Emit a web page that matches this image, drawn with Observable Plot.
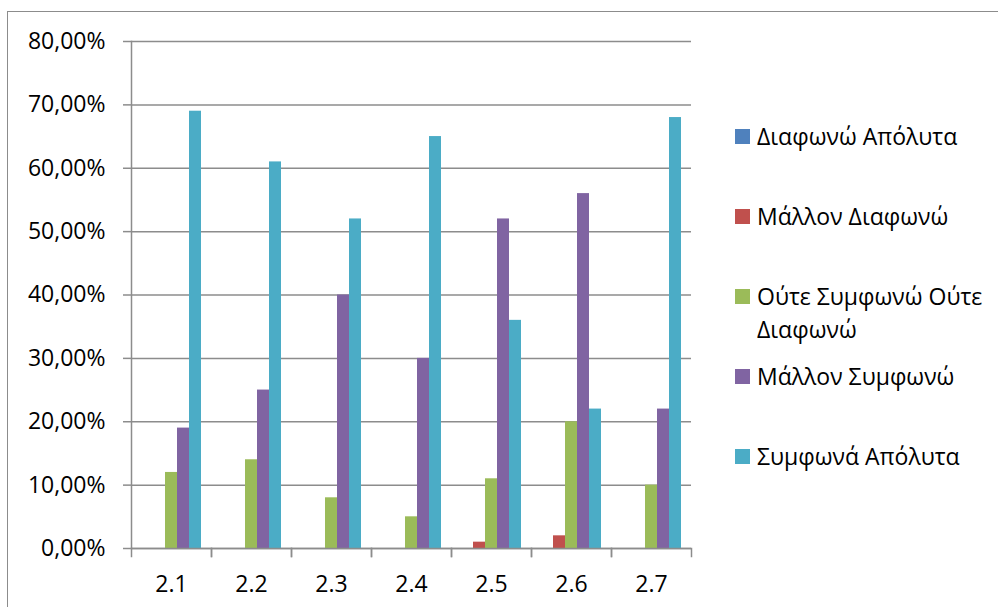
<!DOCTYPE html>
<html>
<head>
<meta charset="utf-8">
<script src="https://cdn.jsdelivr.net/npm/d3@7"></script>
<script src="https://cdn.jsdelivr.net/npm/@observablehq/plot@0.6"></script>
<style>
html, body { margin: 0; padding: 0; background: #fff; overflow: hidden; width: 998px; height: 607px; }
#border { position: absolute; left: 7px; top: 11px; width: 1200px; height: 900px; border-left: 1.5px solid #8c8c8c; border-top: 1.5px solid #8c8c8c; box-sizing: border-box; }
#chart { position: absolute; left: 0; top: 0; }
#legend { position: absolute; left: 735px; top: 120px; font-family: "Open Sans", sans-serif; font-size: 23px; color: #000; }
.item { height: 80px; display: flex; align-items: flex-start; }
.sw { width: 15px; height: 15px; margin-top: 9px; margin-right: 7px; flex: none; }
.lab { line-height: 33px; width: 240px; }
</style>
</head>
<body>
<div id="border"></div>
<div id="chart"></div>
<div id="legend"></div>
<script>
const categories = ["2.1", "2.2", "2.3", "2.4", "2.5", "2.6", "2.7"];
const series = ["Διαφωνώ Απόλυτα", "Μάλλον Διαφωνώ", "Ούτε Συμφωνώ Ούτε Διαφωνώ", "Μάλλον Συμφωνώ", "Συμφωνά Απόλυτα"];
const colors = ["#4F81BD", "#C0504D", "#9BBB59", "#8064A2", "#4BACC6"];
const diafonoApolyta = [0, 0, 0, 0, 0, 0, 0];
const mallonDiafono = [0, 0, 0, 0, 1, 2, 0];
const outeSymfonoOuteDiafono = [12, 14, 8, 5, 11, 20, 10];
const mallonSymfono = [19, 25, 40, 30, 52, 56, 22];
const symfonaApolyta = [69, 61, 52, 65, 36, 22, 68];
const yTicks = [0, 10, 20, 30, 40, 50, 60, 70, 80];

const seriesValues = [diafonoApolyta, mallonDiafono, outeSymfonoOuteDiafono, mallonSymfono, symfonaApolyta];
const data = [];
categories.forEach((c, ci) => {
  series.forEach((s, si) => {
    data.push({cat: c, series: s, value: seriesValues[si][ci]});
  });
});

const fmt = d => d.toFixed(2).replace(".", ",") + "%";
const gray = "#8c8c8c";

const chart = Plot.plot({
  width: 700,
  height: 607,
  marginLeft: 129,
  marginRight: 8,
  marginTop: 41,
  marginBottom: 59,
  style: {fontFamily: "'Open Sans', sans-serif", fontSize: "23px", color: "#000", background: "transparent"},
  facet: {data: data, x: "cat"},
  fx: {domain: categories, padding: 0, label: null, axis: null},
  x: {domain: series, paddingInner: 0, paddingOuter: 0.75, axis: null},
  y: {domain: [0, 80], axis: null},
  color: {domain: series, range: colors},
  marks: [
    Plot.gridY(yTicks, {stroke: gray, strokeOpacity: 1, strokeWidth: 1.5}),
    Plot.barY(data, {x: "series", y: "value", fill: "series"}),
    Plot.ruleY([0], {stroke: gray, strokeWidth: 1.5}),
    Plot.frame({anchor: "left", facetAnchor: "left", stroke: gray, strokeWidth: 1.5}),
    Plot.frame({anchor: "left", insetTop: 507, insetBottom: -8, stroke: gray, strokeWidth: 1.5}),
    Plot.frame({anchor: "right", insetTop: 507, insetBottom: -8, stroke: gray, strokeWidth: 1.5}),
    Plot.axisY(yTicks, {tickSize: 8, tickPadding: 18, tickFormat: fmt, stroke: gray, strokeWidth: 1.5, fill: "#000", label: null, fontSize: 23}),
    Plot.axisFx({anchor: "bottom", tickSize: 0, tickPadding: 27, label: null, fontSize: 23, fill: "#000"})
  ]
});
document.getElementById("chart").appendChild(chart);

const legend = document.getElementById("legend");
series.forEach((s, i) => {
  const item = document.createElement("div");
  item.className = "item";
  const sw = document.createElement("div");
  sw.className = "sw";
  sw.style.background = colors[i];
  const lab = document.createElement("div");
  lab.className = "lab";
  lab.textContent = s;
  item.appendChild(sw);
  item.appendChild(lab);
  legend.appendChild(item);
});
</script>
</body>
</html>
